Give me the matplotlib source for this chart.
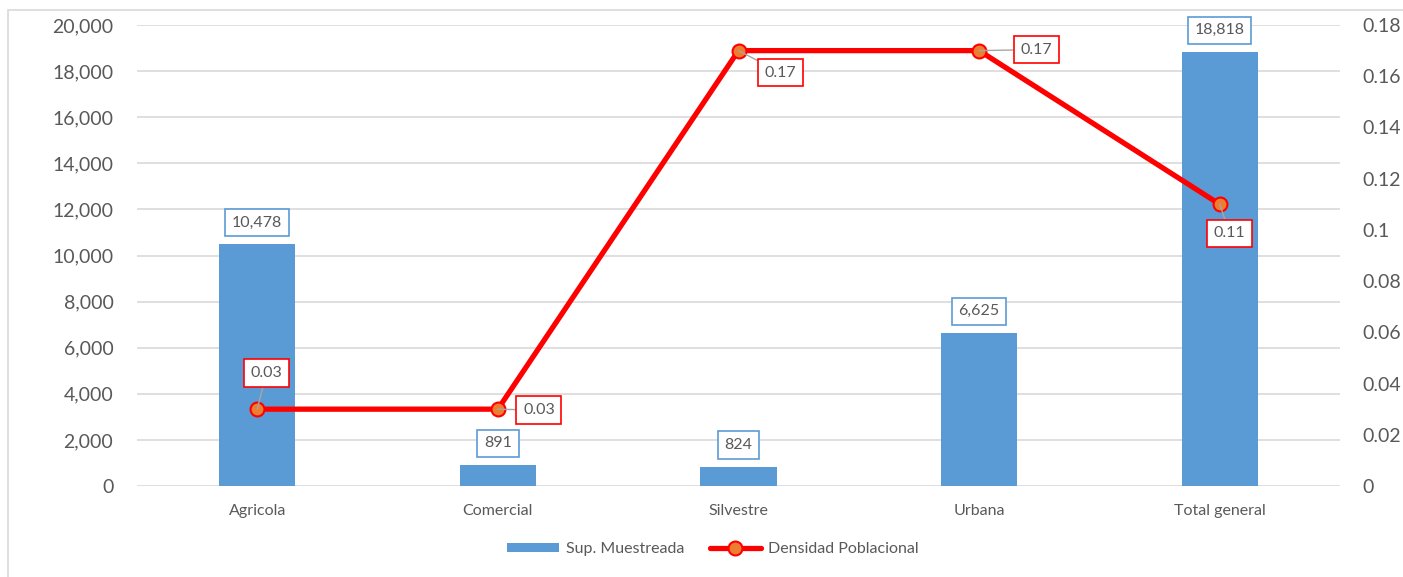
import matplotlib
matplotlib.use("Agg")
import matplotlib.pyplot as plt
from matplotlib.patches import Rectangle
from matplotlib.ticker import FuncFormatter

plt.rcParams["font.family"] = ["Lato", "DejaVu Sans"]

# data
categorias = ["Agricola", "Comercial", "Silvestre", "Urbana", "Total general"]
sup_muestreada = [10478, 891, 824, 6625, 18818]
densidad = [0.03, 0.03, 0.17, 0.17, 0.11]

# label offsets (pixels) for the density labels
dens_offsets = [(9, 36), (41, -1), (42, -22), (57, 1), (10, -29)]

BLUE = "#5B9BD5"
RED = "#FF0000"
ORANGE = "#ED7D31"
TXT = "#595959"
GRID = "#D9D9D9"

W, H = 1403, 577
fig = plt.figure(figsize=(W / 100, H / 100), dpi=100)
ax = fig.add_axes([137 / W, 91 / H, (1340 - 137) / W, (486 - 25) / H])

# chart border
fig.patches.append(Rectangle((8 / W, -0.1), 1.2, 1.1 - 10 / H, transform=fig.transFigure,
                             fill=False, edgecolor=GRID, lw=1.2, zorder=0))

x = list(range(len(categorias)))
bars = ax.bar(x, sup_muestreada, width=0.316, color=BLUE, zorder=2,
              label="Sup. Muestreada")
ax.set_xlim(-0.5, len(categorias) - 0.5)
ax.set_ylim(0, 20000)
ax.set_yticks(range(0, 20001, 2000))
ax.yaxis.set_major_formatter(FuncFormatter(lambda v, p: f"{int(v):,}"))
ax.grid(axis="y", color=GRID, lw=1.2, zorder=0)
ax.set_axisbelow(True)
for s in ax.spines.values():
    s.set_visible(False)
ax.tick_params(axis="y", length=0, labelsize=14, labelcolor=TXT, pad=17)
ax.tick_params(axis="x", length=0, labelsize=11.5, labelcolor=TXT, pad=13)
ax.set_xticks(x)
ax.set_xticklabels(categorias)

for xi, v in zip(x, sup_muestreada):
    ax.annotate(f"{v:,}", (xi, v), xytext=(0, 22), textcoords="offset pixels",
                ha="center", va="center", fontsize=11.5, color=TXT, zorder=5,
                bbox=dict(boxstyle="square,pad=0.42", fc="white", ec=BLUE, lw=1.2))

ax2 = ax.twinx()
ax2.set_ylim(0, 0.18)
ax2.set_yticks([0, 0.02, 0.04, 0.06, 0.08, 0.1, 0.12, 0.14, 0.16, 0.18])
ax2.yaxis.set_major_formatter(FuncFormatter(lambda v, p: f"{v:g}" if v else "0"))
for s in ax2.spines.values():
    s.set_visible(False)
ax2.tick_params(axis="y", length=0, labelsize=14, labelcolor=TXT, pad=16)
ln, = ax2.plot(x, densidad, color=RED, lw=3.8, marker="o", markersize=10,
               markerfacecolor=ORANGE, markeredgecolor=RED, markeredgewidth=1.5,
               zorder=3, label="Densidad Poblacional", solid_capstyle="round")

for xi, v, off in zip(x, densidad, dens_offsets):
    ax2.annotate(f"{v:.2f}", (xi, v), xytext=off, textcoords="offset pixels",
                 ha="center", va="center", fontsize=11.5, color=TXT, zorder=6,
                 bbox=dict(boxstyle="square,pad=0.42", fc="white", ec=RED, lw=1.2),
                 arrowprops=dict(arrowstyle="-", color="#A6A6A6", lw=1,
                                 shrinkA=0, shrinkB=0))

fig.legend(handles=[bars, ln], loc="center", bbox_to_anchor=(713 / W, 1 - 549 / H),
           ncol=2, frameon=False, fontsize=11.5, labelcolor=TXT, handlelength=3.2,
           handleheight=0.55, columnspacing=1.6, handletextpad=0.45)

fig.savefig("out.png", dpi=100)
